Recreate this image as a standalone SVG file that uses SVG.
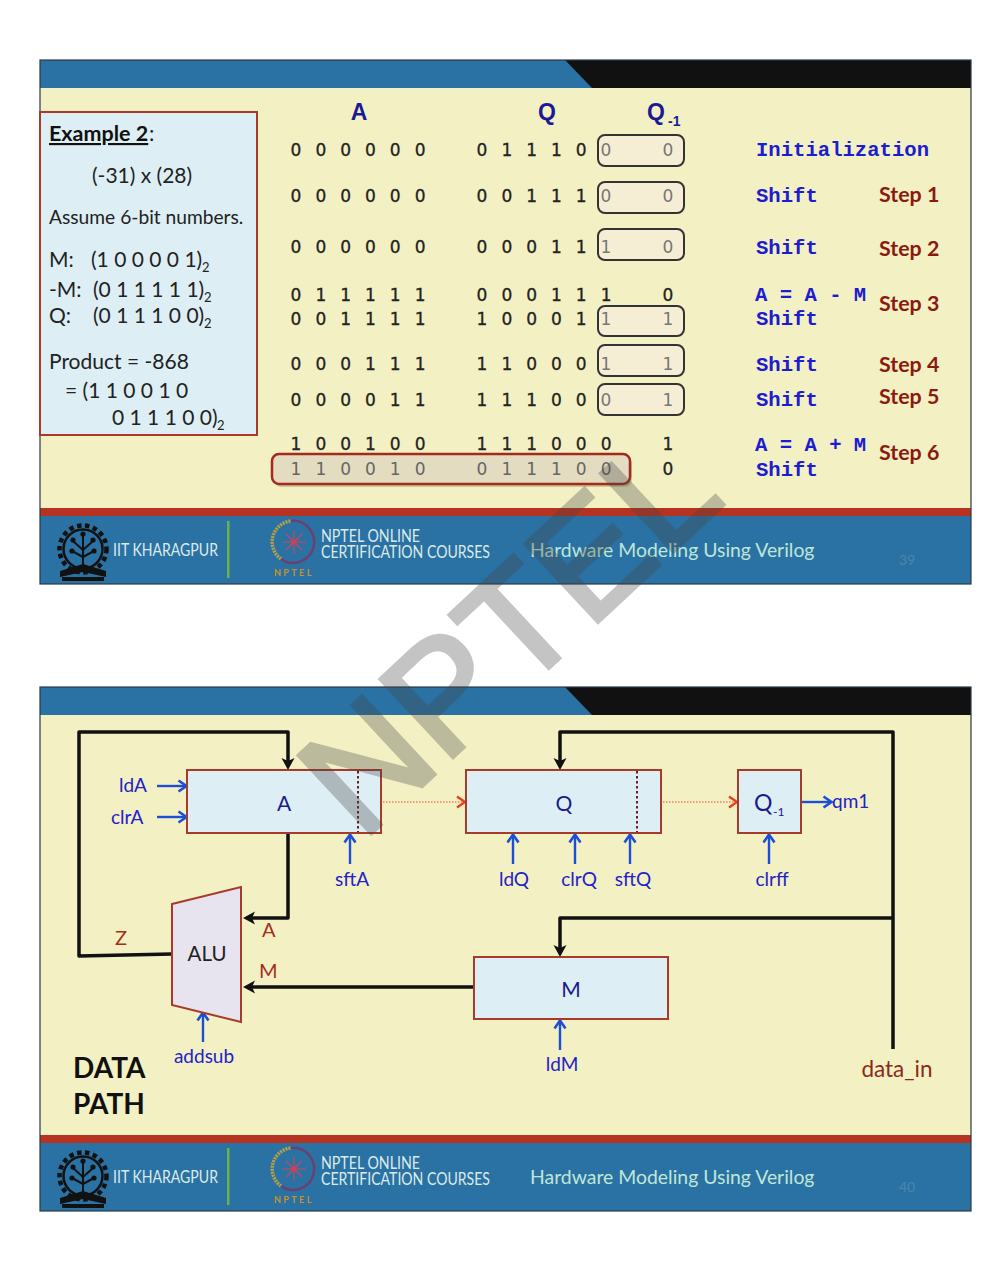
<svg xmlns="http://www.w3.org/2000/svg" width="998" height="1280" viewBox="0 0 998 1280">
<style>
text{font-family:"Lato","Open Sans","Liberation Sans",sans-serif}
.bit{font-family:"DejaVu Sans",sans-serif;font-size:17px;letter-spacing:4.3px;fill:#222;stroke:#222;stroke-width:.3}
.bit2{font-family:"DejaVu Sans",sans-serif;font-size:17px;fill:#777}
.bitg{font-family:"DejaVu Sans",sans-serif;font-size:17px;letter-spacing:4.3px;fill:#666}
.op{font-family:"Liberation Mono",monospace;font-weight:700;font-size:20.6px;fill:#1c1cd0}
.step{font-weight:700;font-size:21.4px;fill:#8a1a10}
.hd{font-family:"Liberation Sans",sans-serif;font-weight:700;font-size:23px;fill:#1a1a96}
.ex{font-size:21px;fill:#222}
.sub{font-size:13px;fill:#222}
.foot{fill:#dcebea;font-size:17px}
.title{fill:#bfe6d8;font-size:19.4px}
.pg{fill:#4d87a8;font-size:14px}
.gold{fill:#c9902a;font-size:9px;font-weight:700;letter-spacing:2.4px}
.box{fill:#f5eed5;stroke:#333;stroke-width:2}
.reg{fill:#deeef5;stroke:#a83a2a;stroke-width:2}
.sig{fill:#2222c8;font-size:19px}
.nm{fill:#1a1a8c;font-size:21px;text-anchor:middle}
.red{fill:#a0301c;font-size:20px}
.bus{fill:none;stroke:#111;stroke-width:3.5;stroke-linejoin:round}
.ctl{fill:none;stroke:#1c4fd8;stroke-width:2.4}
.dot{fill:none;stroke:#f08060;stroke-width:1.5;stroke-dasharray:1.5 1.5}
.cut{stroke:#6a2020;stroke-width:2;stroke-dasharray:2.5 2.5}
</style>
<defs>
<marker id="ab" markerUnits="userSpaceOnUse" markerWidth="14" markerHeight="14" refX="6" refY="7" orient="auto"><path d="M0,0.5L12,7L0,13.5L3,7Z" fill="#111"/></marker>
<marker id="ac" markerUnits="userSpaceOnUse" markerWidth="14" markerHeight="14" refX="10.5" refY="7" orient="auto"><path d="M3,1.5L11,7L3,12.5" fill="none" stroke="#1c4fd8" stroke-width="2.6"/></marker>
<marker id="ao" markerUnits="userSpaceOnUse" markerWidth="12" markerHeight="14" refX="10" refY="7" orient="auto"><path d="M2,1.5L10,7L2,12.5" fill="none" stroke="#e8401c" stroke-width="2.4"/></marker>
<g id="frame">
<rect x="40" y="0" width="931" height="524" fill="#f3f0c4"/>
<rect x="40" y="0" width="931" height="28" fill="#2a72a3"/>
<path d="M565,0H971V28H592Z" fill="#111"/>
<rect x="40" y="448" width="931" height="8" fill="#b53320"/>
<rect x="40" y="456" width="931" height="68" fill="#2a72a3"/>
<rect x="40" y="0" width="931" height="524" fill="none" stroke="#2b3a44" stroke-width="1.2"/>
<rect x="227" y="461" width="2.5" height="57" fill="#6cb04a"/>
<circle cx="83" cy="489" r="19.5" fill="none" stroke="#111" stroke-width="2.5"/>
<circle cx="83" cy="489" r="23.5" fill="none" stroke="#111" stroke-width="4.5" stroke-dasharray="4.5 3.5"/>
<path d="M83,476V506M83,490L73,481M83,490L93,481M83,497L72,491M83,497L94,491" stroke="#111" stroke-width="2" fill="none"/>
<circle cx="83" cy="474" r="2.6" fill="#111"/><circle cx="73" cy="480" r="2.6" fill="#111"/><circle cx="93" cy="480" r="2.6" fill="#111"/><circle cx="72" cy="491" r="2.6" fill="#111"/><circle cx="94" cy="491" r="2.6" fill="#111"/>
<path d="M60,511L83,504L106,511V517L83,512L60,517Z" fill="#111"/>
<path d="M62,517H104V521H62Z" fill="#111"/>
<path d="M281,499A21,21 0 0 1 291,461" fill="none" stroke="#b9a043" stroke-width="3.5" stroke-dasharray="2 1"/>
<path d="M291,461A21,21 0 1 1 281,499" fill="none" stroke="#6d3f70" stroke-width="2.5"/>
<path d="M294,470V494M282,482H306M286,474L302,490M302,474L286,490" stroke="#c04a60" stroke-width="1.2"/>
<circle cx="294" cy="482" r="3" fill="#c8405a"/>
</g>
</defs>
<rect width="998" height="1280" fill="#fff"/>

<g id="slide-39">
<use href="#frame" y="60"/>
<g id="example-box">
<rect x="40" y="112" width="217" height="323" class="reg"/>
<text x="49" y="141" font-size="21.5" font-weight="700" fill="#111" text-decoration="underline">Example 2</text><text x="149" y="141" font-size="21.5" fill="#222">:</text>
<text x="92" y="183" class="ex">(-31) x (28)</text>
<text x="49" y="224" font-size="19.2" fill="#222">Assume 6-bit numbers.</text>
<text x="49" y="267" class="ex">M:</text><text x="91" y="267" class="ex">(1 0 0 0 0 1)</text><text x="202" y="272" class="sub">2</text>
<text x="49" y="297" class="ex">-M:</text><text x="93" y="297" class="ex">(0 1 1 1 1 1)</text><text x="204" y="302" class="sub">2</text>
<text x="49" y="323" class="ex">Q:</text><text x="93" y="323" class="ex">(0 1 1 1 0 0)</text><text x="204" y="328" class="sub">2</text>
<text x="49" y="369" class="ex">Product = -868</text>
<text x="65" y="398" class="ex">= (1 1 0 0 1 0</text>
<text x="112" y="425" class="ex">0 1 1 1 0 0)</text><text x="217" y="430" class="sub">2</text>
</g>
<g id="headers">
<text x="359" y="120" class="hd" text-anchor="middle">A</text>
<text x="547" y="120" class="hd" text-anchor="middle">Q</text>
<text x="656" y="120" class="hd" text-anchor="middle">Q</text><text x="668" y="126" font-family="Liberation Sans" font-weight="700" font-size="14" style="font-family:'Liberation Sans',sans-serif" fill="#1a1a96">-1</text>
</g>
<g id="qm1-boxes">
<rect x="598" y="135" width="86" height="31" rx="7" class="box"/>
<rect x="598" y="182" width="86" height="31" rx="7" class="box"/>
<rect x="598" y="229" width="86" height="31" rx="7" class="box"/>
<rect x="598" y="306" width="86" height="30" rx="7" class="box"/>
<rect x="598" y="345" width="86" height="31" rx="7" class="box"/>
<rect x="598" y="384" width="86" height="31" rx="7" class="box"/>
</g>
<g id="product-box">
<rect x="274" y="457" width="358" height="30" rx="7" fill="#8a7a50" opacity=".35"/>
<rect x="272" y="454" width="358" height="30" rx="7" fill="#e3dcc0" stroke="#a5291d" stroke-width="2.5"/>
</g>
<g id="bits">
<text x="290.6" y="156" class="bit">0 0 0 0 0 0</text><text x="476.6" y="156" class="bit">0 1 1 1 0</text><text x="600.6" y="156" class="bit2">0</text><text x="662.6" y="156" class="bit2">0</text>
<text x="290.6" y="202" class="bit">0 0 0 0 0 0</text><text x="476.6" y="202" class="bit">0 0 1 1 1</text><text x="600.6" y="202" class="bit2">0</text><text x="662.6" y="202" class="bit2">0</text>
<text x="290.6" y="253" class="bit">0 0 0 0 0 0</text><text x="476.6" y="253" class="bit">0 0 0 1 1</text><text x="600.6" y="253" class="bit2">1</text><text x="662.6" y="253" class="bit2">0</text>
<text x="290.6" y="301" class="bit">0 1 1 1 1 1</text><text x="476.6" y="301" class="bit">0 0 0 1 1 1</text><text x="662.6" y="301" class="bit">0</text>
<text x="290.6" y="325" class="bit">0 0 1 1 1 1</text><text x="476.6" y="325" class="bit">1 0 0 0 1</text><text x="600.6" y="325" class="bit2">1</text><text x="662.6" y="325" class="bit2">1</text>
<text x="290.6" y="370" class="bit">0 0 0 1 1 1</text><text x="476.6" y="370" class="bit">1 1 0 0 0</text><text x="600.6" y="370" class="bit2">1</text><text x="662.6" y="370" class="bit2">1</text>
<text x="290.6" y="406" class="bit">0 0 0 0 1 1</text><text x="476.6" y="406" class="bit">1 1 1 0 0</text><text x="600.6" y="406" class="bit2">0</text><text x="662.6" y="406" class="bit2">1</text>
<text x="290.6" y="450" class="bit">1 0 0 1 0 0</text><text x="476.6" y="450" class="bit">1 1 1 0 0 0</text><text x="662.6" y="450" class="bit">1</text>
<text x="290.6" y="475" class="bitg">1 1 0 0 1 0</text><text x="476.6" y="475" class="bitg">0 1 1 1 0 0</text><text x="662.6" y="475" class="bit">0</text>
</g>
<g id="ops">
<text x="756" y="156" class="op">Initialization</text>
<text x="756" y="202" class="op">Shift</text>
<text x="756" y="254" class="op">Shift</text>
<text x="755" y="301" class="op">A = A - M</text>
<text x="756" y="325" class="op">Shift</text>
<text x="756" y="371" class="op">Shift</text>
<text x="756" y="406" class="op">Shift</text>
<text x="755" y="451" class="op">A = A + M</text>
<text x="756" y="476" class="op">Shift</text>
</g>
<g id="steps">
<text x="879" y="202" class="step">Step 1</text>
<text x="879" y="256" class="step">Step 2</text>
<text x="879" y="311" class="step">Step 3</text>
<text x="879" y="372" class="step">Step 4</text>
<text x="879" y="404" class="step">Step 5</text>
<text x="879" y="460" class="step">Step 6</text>
</g>
<g id="footer-39">
<text x="113" y="556" class="foot" textLength="105" lengthAdjust="spacingAndGlyphs">IIT KHARAGPUR</text>
<text x="321" y="542" class="foot" textLength="99" lengthAdjust="spacingAndGlyphs">NPTEL ONLINE</text>
<text x="321" y="558" class="foot" textLength="169" lengthAdjust="spacingAndGlyphs">CERTIFICATION COURSES</text>
<text x="274" y="576" class="gold">NPTEL</text>
<text x="530" y="557" class="title">Hardware Modeling Using Verilog</text>
<text x="899" y="565" class="pg">39</text>
</g>
</g>

<g id="slide-40">
<use href="#frame" y="687"/>
<g id="connectors">
<path class="bus" d="M172,954L79,956V732H288V764" marker-end="url(#ab)"/>
<path class="bus" d="M288,833V918H249" marker-end="url(#ab)"/>
<path class="bus" d="M474,987H249" marker-end="url(#ab)"/>
<path class="bus" d="M893,1049V732H560V764" marker-end="url(#ab)"/>
<path class="bus" d="M893,918H560V951" marker-end="url(#ab)"/>
<path class="dot" d="M383,802H465" marker-end="url(#ao)"/>
<path class="dot" d="M663,802H737" marker-end="url(#ao)"/>
<path class="ctl" d="M157,786H186" marker-end="url(#ac)"/>
<path class="ctl" d="M157,817H186" marker-end="url(#ac)"/>
<path class="ctl" d="M350,864V835" marker-end="url(#ac)"/>
<path class="ctl" d="M513,864V835" marker-end="url(#ac)"/>
<path class="ctl" d="M575,864V835" marker-end="url(#ac)"/>
<path class="ctl" d="M630,864V835" marker-end="url(#ac)"/>
<path class="ctl" d="M769,864V835" marker-end="url(#ac)"/>
<path class="ctl" d="M802,802H831" marker-end="url(#ac)"/>
<path class="ctl" d="M203,1042V1013" marker-end="url(#ac)"/>
<path class="ctl" d="M560,1050V1021" marker-end="url(#ac)"/>
</g>
<g id="reg-A"><rect x="187" y="770" width="194" height="63" class="reg"/><path class="cut" d="M358,771V832"/><text x="284" y="811" class="nm">A</text></g>
<g id="reg-Q"><rect x="466" y="770" width="195" height="63" class="reg"/><path class="cut" d="M637,771V832"/><text x="564" y="811" class="nm">Q</text></g>
<g id="reg-Qm1"><rect x="738" y="770" width="63" height="63" class="reg"/><text x="754" y="811" fill="#1a1a8c" font-size="23">Q</text><text x="773" y="816" fill="#1a1a8c" font-size="12">-1</text></g>
<g id="reg-M"><rect x="474" y="957" width="194" height="62" class="reg"/><text x="571" y="997" class="nm">M</text></g>
<g id="alu"><path d="M172,904L241,887V1022L172,1005Z" fill="#e8e4ef" stroke="#a83a2a" stroke-width="2"/><text x="207" y="961" text-anchor="middle" font-size="20.5" fill="#222">ALU</text></g>
<g id="labels">
<text x="119" y="792" class="sig">ldA</text>
<text x="111" y="824" class="sig">clrA</text>
<text x="352" y="886" class="sig" text-anchor="middle">sftA</text>
<text x="514" y="886" class="sig" text-anchor="middle">ldQ</text>
<text x="579" y="886" class="sig" text-anchor="middle">clrQ</text>
<text x="633" y="886" class="sig" text-anchor="middle">sftQ</text>
<text x="772" y="886" class="sig" text-anchor="middle">clrff</text>
<text x="832" y="808" class="sig">qm1</text>
<text x="204" y="1063" class="sig" text-anchor="middle">addsub</text>
<text x="562" y="1071" class="sig" text-anchor="middle">ldM</text>
<text x="897" y="1077" fill="#8a2a1a" font-size="22.5" text-anchor="middle">data_in</text>
<text x="115" y="945" class="red">Z</text>
<text x="262" y="937" class="red">A</text>
<text x="259" y="978" class="red">M</text>
<text x="73" y="1078" font-size="28" font-weight="700" fill="#111">DATA</text>
<text x="73" y="1114" font-size="28" font-weight="700" fill="#111">PATH</text>
</g>
<g id="footer-40">
<text x="113" y="1183" class="foot" textLength="105" lengthAdjust="spacingAndGlyphs">IIT KHARAGPUR</text>
<text x="321" y="1169" class="foot" textLength="99" lengthAdjust="spacingAndGlyphs">NPTEL ONLINE</text>
<text x="321" y="1185" class="foot" textLength="169" lengthAdjust="spacingAndGlyphs">CERTIFICATION COURSES</text>
<text x="274" y="1203" class="gold">NPTEL</text>
<text x="530" y="1184" class="title">Hardware Modeling Using Verilog</text>
<text x="899" y="1192" class="pg">40</text>
</g>
</g>

<text id="watermark" transform="translate(362,842) rotate(-43)" font-size="155" style="font-family:'Liberation Sans',sans-serif" fill="#444" stroke="#444" stroke-width="4" opacity=".31">NPTEL</text>
</svg>
